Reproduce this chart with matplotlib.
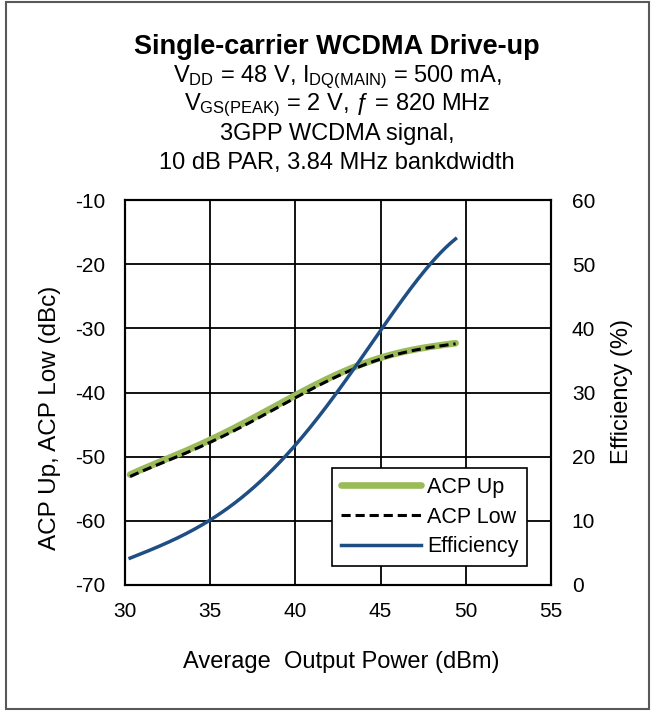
import numpy as np
import matplotlib
matplotlib.use("Agg")
import matplotlib.pyplot as plt
from matplotlib.patches import Rectangle

plt.rcParams['font.family'] = ['Liberation Sans', 'DejaVu Sans']
plt.rcParams['mathtext.fontset'] = 'custom'
plt.rcParams['mathtext.rm'] = 'Liberation Sans'
plt.rcParams['mathtext.it'] = 'Liberation Sans:italic'
plt.rcParams['axes.unicode_minus'] = False

# data
pout = [30.3, 32.5, 35.0, 37.5, 40.0, 42.5, 45.0, 47.5, 49.4]
acp_up = [-52.8, -50.3, -47.4, -44.0, -40.4, -37.2, -34.5, -33.1, -32.3]
acp_low = [-53.1, -50.6, -47.8, -44.4, -40.8, -37.5, -34.7, -33.2, -32.4]
efficiency = [4.2, 6.6, 10.1, 15.2, 21.8, 30.0, 40.0, 48.5, 54.0]

x_ticks = [30, 35, 40, 45, 50, 55]
acp_ticks = [-70, -60, -50, -40, -30, -20, -10]
eff_ticks = [0, 10, 20, 30, 40, 50, 60]


def smooth(x, y, n=200):
    # polynomial through the points, to get a smooth curve like the original
    xs = np.linspace(x[0], x[-1], n)
    coefs = np.polyfit(x, y, 5)
    return xs, np.polyval(coefs, xs)


fig = plt.figure(figsize=(6.52, 7.11), dpi=100)
ax = fig.add_axes([125 / 652, 1 - 585 / 711, 426 / 652, 385 / 711])
ax2 = ax.twinx()

xs, ys = smooth(pout, acp_up)
l1, = ax.plot(xs, ys, color='#9bbb59', lw=4.8, solid_capstyle='round', label='ACP Up')
xs, ys = smooth(pout, acp_low)
l2, = ax.plot(xs, ys, color='black', lw=2.2, ls=(0, (3, 1.6)), label='ACP Low')
xs, ys = smooth(pout, efficiency)
l3, = ax2.plot(xs, ys, color='#1f4e85', lw=2.5, label='Efficiency')

ax.set_xlim(30, 55)
ax.set_ylim(-70, -10)
ax2.set_ylim(0, 60)
ax.set_xticks(x_ticks)
ax.set_yticks(acp_ticks)
ax2.set_yticks(eff_ticks)
ax.grid(True, color='black', lw=1.3)
ax.set_axisbelow(True)
for a in (ax, ax2):
    a.tick_params(length=0, labelsize=15, pad=14)
    for s in a.spines.values():
        s.set_linewidth(1.5)
        s.set_color('black')
ax.tick_params(axis='x', pad=12)
ax2.tick_params(pad=15)

fig.text(50 / 652, 1 - 418 / 711, 'ACP Up, ACP Low (dBc)', rotation=90, ha='center',
         va='center', fontsize=17.5)
fig.text(622 / 652, 1 - 392 / 711, 'Efficiency (%)', rotation=90, ha='center',
         va='center', fontsize=17)
fig.text(341 / 652, 1 - 662 / 711, 'Average  Output Power (dBm)', ha='center',
         va='center', fontsize=17)

leg = ax2.legend(handles=[l1, l2, l3], loc='lower right', bbox_to_anchor=(0.944, 0.05),
                 fontsize=15.5, frameon=True, fancybox=False, edgecolor='black',
                 framealpha=1, borderpad=0.4, handlelength=3.7, labelspacing=0.4,
                 handletextpad=0.3, borderaxespad=0)
leg.get_frame().set_linewidth(1.2)

fig.text(337 / 652, 1 - 47 / 711, 'Single-carrier WCDMA Drive-up', ha='center', va='center',
         fontsize=19.5, fontweight='bold')
sub = [r'V$_{\mathrm{DD}}$ = 48 V, I$_{\mathrm{DQ(MAIN)}}$ = 500 mA,',
       r'V$_{\mathrm{GS(PEAK)}}$ = 2 V, ƒ = 820 MHz',
       '3GPP WCDMA signal,',
       '10 dB PAR, 3.84 MHz bankdwidth']
for i, t in enumerate(sub):
    fig.text(337 / 652, 1 - (77 + 28.5 * i) / 711, t, ha='center', va='center', fontsize=17)

fig.patches.append(Rectangle((6 / 652, 2 / 711), 643 / 652, 707 / 711, transform=fig.transFigure,
                             fill=False, edgecolor='#595959', lw=1.5))

fig.savefig('out.png', dpi=100)
